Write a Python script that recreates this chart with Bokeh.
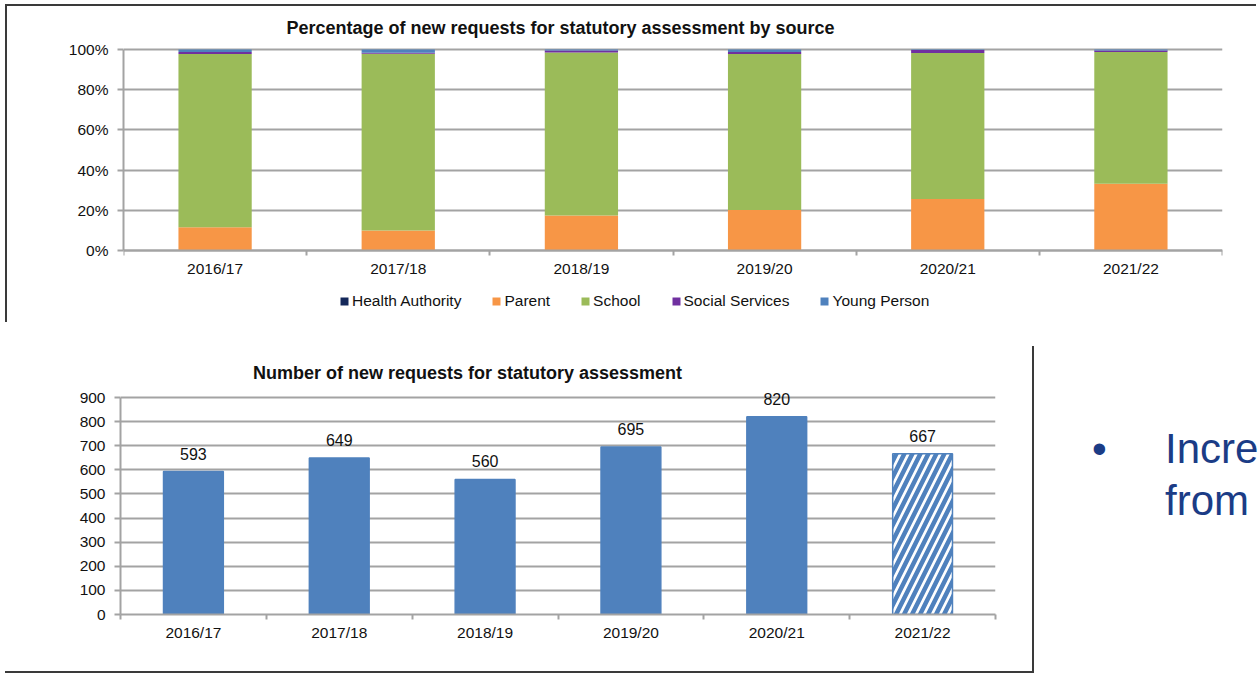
from bokeh.plotting import figure
from bokeh.models import (ColumnDataSource, Range1d, FixedTicker, Legend, LegendItem,
                          Label, LabelSet, Div)
from bokeh.layouts import row
from bokeh.embed import file_html
from bokeh.resources import INLINE
from bokeh.core.properties import value

# ---------------- data ----------------
years = ["2016/17", "2017/18", "2018/19", "2019/20", "2020/21", "2021/22"]
sources = ["Health Authority", "Parent", "School", "Social Services", "Young Person"]
health_authority = [0.2, 0.0, 0.0, 0.2, 0.2, 0.0]
parent = [11.4, 10.0, 17.4, 19.9, 25.4, 33.2]
school = [86.1, 87.9, 81.1, 77.7, 72.6, 65.6]
social_services = [1.0, 0.5, 1.0, 1.0, 1.6, 0.7]
young_person = [1.3, 1.6, 0.5, 1.2, 0.2, 0.5]
pct_ticks = [0, 20, 40, 60, 80, 100]
pct_labels = ["0%", "20%", "40%", "60%", "80%", "100%"]

requests = [593, 649, 560, 695, 820, 667]
partial_year = [False, False, False, False, False, True]
count_ticks = [0, 100, 200, 300, 400, 500, 600, 700, 800, 900]
count_labels = [str(t) for t in count_ticks]

title_top = "Percentage  of new requests for statutory assessment by source"
title_bottom = "Number of new requests for statutory assessment"
side_lines = ["Incre", "from"]

# ---------------- style ----------------
FONT = "Liberation Sans"
TXT = "#111111"
GRID = "#a3a3a3"
FRAME = "#3a3a3a"
BLUE = "#4F81BD"
source_colors = ["#14285A", "#F79646", "#9BBB59", "#7030A0", "#4F81BD"]
SIDE = "#1B3C86"

xs = [i + 0.5 for i in range(len(years))]
bounds = list(range(len(years) + 1))


def style(p, yticks, ylabels):
    p.background_fill_color = "white"
    p.border_fill_color = "white"
    p.outline_line_color = None
    p.xgrid.visible = False
    p.ygrid.grid_line_color = GRID
    p.ygrid.grid_line_width = 2
    p.ygrid.ticker = FixedTicker(ticks=yticks)

    ax = p.xaxis[0]
    ax.ticker = FixedTicker(ticks=xs, minor_ticks=bounds)
    ax.major_label_overrides = {x: y for x, y in zip(xs, years)}
    ax.major_tick_line_color = None
    ax.major_tick_out = 0
    ax.major_tick_in = 0
    ax.minor_tick_out = 5
    ax.minor_tick_in = 0
    ax.minor_tick_line_color = GRID
    ax.minor_tick_line_width = 2
    ax.axis_line_color = GRID
    ax.axis_line_width = 2
    ax.major_label_standoff = 4
    ax.major_label_text_font = FONT
    ax.major_label_text_font_size = "15.5px"
    ax.major_label_text_color = TXT

    ay = p.yaxis[0]
    ay.ticker = FixedTicker(ticks=yticks)
    ay.bounds = (yticks[0], yticks[-1])
    ay.major_label_overrides = {t: l for t, l in zip(yticks, ylabels)}
    ay.major_tick_out = 6
    ay.major_tick_in = 0
    ay.major_tick_line_color = GRID
    ay.major_tick_line_width = 2
    ay.minor_tick_line_color = None
    ay.axis_line_color = GRID
    ay.axis_line_width = 2
    ay.major_label_standoff = 9
    ay.major_label_text_font = FONT
    ay.major_label_text_font_size = "15.5px"
    ay.major_label_text_color = TXT


# ---------------- top chart ----------------
# canvas spans page y 6..324; frame x 123..1222, y 14..324; 100% at y=49, 0% at y=250
t_canvas_top, t_canvas_h = 6, 318
t_frame_top, t_100, t_0 = 14, 49, 250
t_frame_bot = t_canvas_top + t_canvas_h
px_per_pct = (t_0 - t_100) / 100.0
p1 = figure(width=1251, height=t_canvas_h, x_range=Range1d(0, 6),
            y_range=Range1d(-(t_frame_bot - t_0) / px_per_pct, (t_0 - t_frame_top) / px_per_pct),
            output_backend="svg", toolbar_location=None,
            min_border_left=116, min_border_right=36,
            min_border_top=t_frame_top - t_canvas_top, min_border_bottom=0)
p1.margin = (4, 0, 0, 5)
p1.styles = {"border-top": "2px solid " + FRAME, "border-left": "2px solid " + FRAME}
style(p1, pct_ticks, pct_labels)
p1.xaxis[0].fixed_location = 0

src1 = ColumnDataSource(dict(x=xs, ha=health_authority, parent=parent, school=school,
                             ss=social_services, yp=young_person))
stack_keys = ["ha", "parent", "school", "ss", "yp"]
rs = p1.vbar_stack(stack_keys, x="x", width=0.4, source=src1,
                   fill_color=source_colors, line_color=None)

legend = Legend(items=[LegendItem(label=n, renderers=[r]) for n, r in zip(sources, rs)],
                orientation="horizontal", location=(216, t_frame_bot - 300 - 10),
                glyph_width=10, glyph_height=10, label_standoff=3, spacing=30,
                padding=0, margin=0, border_line_color=None, background_fill_alpha=0,
                label_text_font=FONT, label_text_font_size="15.5px", label_text_color=TXT)
p1.add_layout(legend, "center")

p1.add_layout(Label(x=439.5, y=t_frame_bot - 27, x_units="screen", y_units="screen",
                    text=title_top, text_align="center", text_baseline="middle",
                    text_font=FONT, text_font_style="bold", text_font_size="18px",
                    text_color=TXT))

# ---------------- bottom chart ----------------
# canvas spans page y 322..673; frame x 120..995, y 358..614; 900 at y=397, 0 at y=614
b_canvas_top, b_canvas_h = 322, 351
b_frame_top, b_900, b_0 = 358, 397, 614
p2 = figure(width=1027, height=b_canvas_h, x_range=Range1d(0, 6),
            y_range=Range1d(0, 900 * (b_0 - b_frame_top) / (b_0 - b_900)),
            output_backend="svg", toolbar_location=None,
            min_border_left=115, min_border_right=37,
            min_border_top=b_frame_top - b_canvas_top,
            min_border_bottom=b_canvas_top + b_canvas_h - b_0)
p2.margin = (0, 0, 0, 5)
p2.styles = {"border-bottom": "2px solid " + FRAME}
style(p2, count_ticks, count_labels)

fills = ["white" if pp else BLUE for pp in partial_year]
hatches = ["/" if pp else " " for pp in partial_year]
src2 = ColumnDataSource(dict(x=xs, requests=requests, fill=fills, hatch=hatches,
                             label=[str(v) for v in requests]))
p2.vbar(x="x", top="requests", width=0.41, source=src2, fill_color="fill",
        line_color=BLUE, line_width=1.5, hatch_pattern="hatch", hatch_color=BLUE,
        hatch_weight=4.5, hatch_scale=16)
p2.add_layout(LabelSet(x="x", y="requests", text="label", source=src2, y_offset=18,
                       text_align="center", text_baseline="middle",
                       text_font=value(FONT), text_font_size=value("16px"), text_color=TXT))

p2.add_layout(Label(x=347, y=b_0 - 372, x_units="screen", y_units="screen", text=title_bottom,
                    text_align="center", text_baseline="middle", text_font=FONT,
                    text_font_style="bold", text_font_size="18px", text_color=TXT))

# ---------------- side text ----------------
side_html = (
    '<div style="position:relative;width:224px;height:325px;'
    "font-family:'Liberation Sans',Arial,sans-serif;color:" + SIDE + ';'
    'font-size:42px;line-height:52px;">'
    '<div style="position:absolute;left:58px;top:77px;">&bull;</div>'
    '<div style="position:absolute;left:131px;top:77px;white-space:nowrap;">'
    + "<br>".join(side_lines) + '</div></div>'
)
side = Div(text=side_html, width=226, height=327)
side.margin = (24, 0, 0, 0)
side.styles = {"border-left": "2px solid " + FRAME}

bottom_row = row(p2, side)
open("out.html", "w").write(file_html([p1, bottom_row], INLINE))
